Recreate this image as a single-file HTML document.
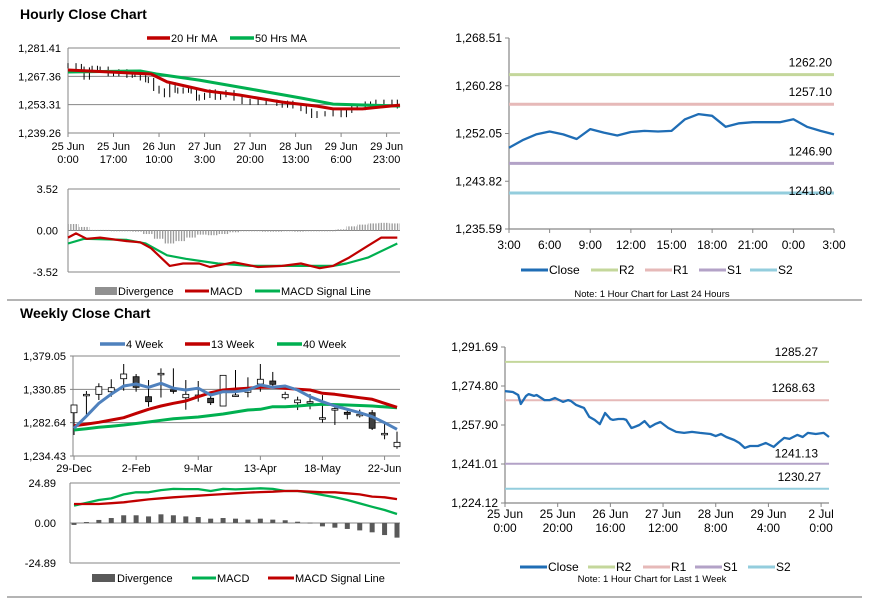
<!DOCTYPE html>
<html><head><meta charset="utf-8">
<style>
html,body{margin:0;padding:0;background:#fff;}
svg{display:block;font-family:"Liberation Sans",Arial,sans-serif;}
</style></head>
<body>
<svg id="s" width="873" height="601" viewBox="0 0 873 601" xmlns="http://www.w3.org/2000/svg">
<defs>
<pattern id="stripe" width="2.7" height="4" patternUnits="userSpaceOnUse"><rect x="0" y="0" width="1.3" height="4" fill="#999"/></pattern>
</defs>
<rect x="0" y="0" width="873" height="601" fill="#fff"/>
<line x1="7" y1="300" x2="862" y2="300" stroke="#888" stroke-width="1.2"/>
<line x1="7" y1="597" x2="862" y2="597" stroke="#888" stroke-width="1.2"/>
<text x="20" y="19" font-size="14" font-weight="bold">Hourly Close Chart</text>
<text x="20" y="318" font-size="14" font-weight="bold">Weekly Close Chart</text>
</svg>
<script>
// ===== Hourly close data (hours since 25 Jun 0:00) =====
const hrHours = [0,3,5,6,8,9,11,12,15,17,19,22,24,25,27,29,30,32,34,36,38,40,41,43,45,46,48,49,51,53,55,57,59,62,65,68,71,74,78,80,82,84,87,89,91,93,96,99,102,104,106,108,111,113,115,118,121,123];
const hrClose = [1272.6,1272.2,1270.9,1267.0,1270.5,1271.3,1270.5,1270.9,1268.7,1268.7,1269.6,1267.9,1268.7,1268.3,1266.6,1265.7,1265.3,1261.4,1260.1,1258.3,1263.1,1260.5,1260.1,1260.5,1260.5,1260.1,1256.6,1257.0,1257.9,1259.6,1257.0,1258.3,1259.2,1256.6,1254.9,1254.5,1254.9,1254.5,1254.0,1253.1,1254.0,1252.7,1251.4,1250.1,1248.0,1248.8,1248.8,1250.1,1248.4,1250.5,1252.3,1251.9,1253.6,1252.7,1254.5,1254.0,1254.5,1252.7];
const ma20Hours = [0,31,37,52,64,80,93,99,110,124];
const ma20Vals = [1270.5,1268.5,1264.6,1260.1,1258.1,1254.6,1252.6,1251.2,1251.2,1253.1];
const ma50Hours = [0,27,33,49,68,87,99,124];
const ma50Vals = [1269.5,1270.0,1268.5,1265.5,1261.1,1256.6,1253.6,1252.6];
const hPriceTicks = ["1,281.41","1,267.36","1,253.31","1,239.26"];
const hPriceTickVals = [1281.41,1267.36,1253.31,1239.26];
const hXLabel1 = ["25 Jun","25 Jun","26 Jun","27 Jun","27 Jun","28 Jun","29 Jun","29 Jun"];
const hXLabel2 = ["0:00","17:00","10:00","3:00","20:00","13:00","6:00","23:00"];
const hXLabelHours = [0,17,34,51,68,85,102,119];
// hourly MACD
const hMacdHours = [0,3,7,12,22,27,31,38,43,49,53,62,71,80,87,94,99,105,112,117,123];
const hMacdVals = [-0.6,-0.25,-0.7,-0.6,-0.9,-1.0,-1.5,-3.0,-2.8,-2.8,-3.1,-2.7,-3.1,-3.0,-2.8,-3.2,-3.0,-2.3,-1.3,-0.6,-0.6];
const hSigHours = [0,6,22,29,37,44,56,68,87,99,104,112,123];
const hSigVals = [-1.1,-0.7,-0.8,-1.1,-2.1,-2.4,-2.8,-3.0,-3.0,-3.0,-2.8,-2.3,-1.1];
const hDivHours = [0,4,8,12,16,20,24,28,32,36,40,44,48,52,56,60,64,68,72,76,80,84,88,92,96,100,104,108,112,116,120];
const hDivVals = [0.55,0.3,0.05,0.05,-0.05,-0.05,-0.1,-0.3,-0.7,-1.1,-0.9,-0.6,-0.35,-0.4,-0.3,-0.15,-0.05,0,-0.1,-0.1,-0.05,-0.1,-0.05,-0.05,0,0.1,0.35,0.5,0.6,0.65,0.6];
// 24h chart
const dayHours = [0,1,2,3,4,5,6,7,8,9,10,11,12,13,14,15,16,17,18,19,20,21,22,23,24];
const dayClose = [1249.6,1250.9,1251.9,1252.4,1251.9,1251.1,1252.8,1252.2,1251.7,1252.3,1252.5,1252.4,1252.5,1254.5,1255.4,1255.1,1253.2,1253.8,1254.0,1254.0,1254.0,1254.5,1253.2,1252.5,1251.9];
const dayLevelNames = ["R2","R1","S1","S2"];
const dayLevels = [1262.20,1257.10,1246.90,1241.80];
const dayYTicks = ["1,268.51","1,260.28","1,252.05","1,243.82","1,235.59"];
const dayYTickVals = [1268.51,1260.28,1252.05,1243.82,1235.59];
const dayXLabels = ["3:00","6:00","9:00","12:00","15:00","18:00","21:00","0:00","3:00"];
const dayXLabelHours = [0,3,6,9,12,15,18,21,24];
// week hourly chart levels
const wkLevels = [1285.27,1268.63,1241.13,1230.27];
const wkYTicks = ["1,291.69","1,274.80","1,257.90","1,241.01","1,224.12"];
const wkYTickVals = [1291.69,1274.80,1257.90,1241.01,1224.12];
const wkXLabel1 = ["25 Jun","25 Jun","26 Jun","27 Jun","28 Jun","29 Jun","2 Jul"];
const wkXLabel2 = ["0:00","20:00","16:00","12:00","8:00","4:00","0:00"];
const wkXLabelHours = [0,20,40,60,80,100,120];
// ===== Weekly candles =====
const wOpen  = [1297.0,1323.0,1323.6,1327.4,1346.2,1349.1,1320.2,1352.0,1330.0,1318.7,1322.0,1317.9,1306.7,1322.6,1326.6,1338.6,1342.9,1318.7,1311.5,1313.0,1289.8,1302.9,1297.6,1294.7,1297.0,1267.2,1247.9];
const wClose = [1308.2,1323.6,1334.6,1333.2,1353.0,1333.7,1313.0,1354.0,1328.9,1323.6,1322.6,1311.5,1351.1,1322.6,1330.9,1345.4,1338.1,1323.6,1315.4,1313.0,1289.8,1302.9,1294.7,1294.7,1274.5,1267.2,1254.2];
const wHigh  = [1308.2,1328.4,1339.6,1345.4,1367.5,1353.0,1344.3,1361.2,1361.2,1344.3,1342.9,1324.5,1351.1,1358.8,1348.2,1367.5,1356.0,1327.4,1320.2,1324.0,1322.6,1306.7,1303.4,1301.5,1301.0,1280.7,1269.6];
const wLow   = [1264.8,1293.7,1315.4,1320.2,1328.9,1327.4,1305.7,1319.0,1324.5,1301.4,1313.0,1308.2,1306.7,1320.0,1319.3,1327.4,1334.0,1316.0,1300.9,1302.0,1282.6,1279.3,1287.5,1290.0,1272.0,1258.6,1245.0];
const w4 = [1274.5,1292.0,1310.6,1324.0,1335.7,1338.6,1333.8,1339.5,1332.5,1329.9,1332.5,1322.6,1327.4,1327.4,1329.9,1337.1,1333.8,1335.7,1329.9,1320.2,1313.0,1306.7,1302.0,1297.0,1291.3,1282.6,1273.0];
const w13 = [1278.3,1280.5,1283.1,1286.5,1289.8,1296.1,1301.9,1306.7,1310.6,1313.9,1320.2,1326.0,1329.9,1331.3,1332.5,1333.8,1333.8,1332.5,1331.1,1329.9,1325.1,1323.6,1321.2,1318.7,1316.4,1310.6,1304.9];
const w40 = [1272.0,1273.9,1275.9,1277.5,1279.3,1281.5,1283.6,1286.0,1288.4,1289.6,1290.8,1293.0,1295.1,1298.0,1300.9,1301.9,1305.7,1305.7,1306.7,1308.2,1309.2,1308.7,1308.2,1307.5,1306.7,1305.5,1304.3];
const wTicks = ["1,379.05","1,330.85","1,282.64","1,234.43"];
const wTickVals = [1379.05,1330.85,1282.64,1234.43];
const wXLabels = ["29-Dec","2-Feb","9-Mar","13-Apr","18-May","22-Jun"];
const wXLabelIdx = [0,5,10,15,20,25];
const wMacd = [10.8,12.5,14.3,15.3,17.8,19.1,19.1,20.5,21.2,21.1,21.1,19.9,21.2,20.9,21.2,21.6,21.2,19.9,19.9,18.9,17.4,16.0,14.3,12.2,10.1,8.1,5.6];
const wSig = [11.8,11.8,11.8,12.3,12.9,13.8,14.7,15.4,16.0,16.5,17.0,17.5,18.0,18.5,18.9,19.2,19.5,19.9,19.9,19.5,19.1,19.1,18.5,17.8,16.4,16.0,14.9];
const wDiv = [-1.2,0.6,1.9,3.1,4.8,4.8,4.1,5.4,4.8,4.1,3.7,2.7,3.1,2.7,2.1,2.7,2.1,1.7,0.8,0.2,-2.1,-2.9,-3.7,-4.6,-5.8,-7.5,-9.1];

const svg = document.getElementById('s');
const NS = 'http://www.w3.org/2000/svg';
function mk(tag, attrs, parent){const e=document.createElementNS(NS,tag);for(const k in attrs)e.setAttribute(k,attrs[k]);(parent||svg).appendChild(e);return e;}
function txt(x,y,s,size,anchor,parent){const t=mk('text',{x:x,y:y,'font-size':size,'text-anchor':anchor||'start',fill:'#000'},parent);t.textContent=s;return t;}
function lin(a,b,c,d,col,w,parent){return mk('line',{x1:a,y1:b,x2:c,y2:d,stroke:col,'stroke-width':w},parent);}
function poly(xs,ys,col,w,parent){return mk('polyline',{points:xs.map((x,i)=>x.toFixed(1)+','+ys[i].toFixed(1)).join(' '),fill:'none',stroke:col,'stroke-width':w,'stroke-linejoin':'round'},parent);}
function lin2(d0,d1,r0,r1){return v=>r0+(v-d0)*(r1-r0)/(d1-d0);}
const RED='#c00000',GRN='#00b050',BLU='#4f81bd',CLS='#1f6db5',GRID='#868686';
const LCOL={R2:'#c4d79b',R1:'#e6b9b8',S1:'#b3a2c7',S2:'#93cddd'};

// ===== Panel 1: Hourly price =====
{
const g=mk('g',{});


const x=lin2(0,124,68,400), y=lin2(1281.41,1239.26,48,133);
hPriceTickVals.forEach((v,i)=>{
  const gl=lin(68,y(v),400,y(v),GRID,1,g);
  
  
  const t=txt(61,y(v)+4,hPriceTicks[i],11,'end',g);
  
  
});
lin(68,48,68,133,GRID,1,g);
hXLabelHours.forEach((h,i)=>{
  lin(x(h),133,x(h),137,GRID,1,g);
  const t1=txt(x(h),150,hXLabel1[i],11,'middle',g);
  
  
  const t2=txt(x(h),163,hXLabel2[i],11,'middle',g);
  
  
});
hrHours.forEach((h,i)=>{
  const o=i>0?hrClose[i-1]:hrClose[i], c=hrClose[i];
  const hi=Math.max(o,c)+1.3, lo=Math.min(o,c)-1.3;
  const b=lin(x(h),y(hi),x(h),y(lo),'#000',1,g);
  
  
});
const m50=poly(ma50Hours.map(x),ma50Vals.map(y),GRN,3,g);


const m20=poly(ma20Hours.map(x),ma20Vals.map(y),RED,3,g);


const l1=lin(147,38,170,38,RED,3.5,g);


txt(171,42,'20 Hr MA',11,'start',g);
const l2=lin(230,38,254,38,GRN,3.5,g);


txt(255,42,'50 Hrs MA',11,'start',g);
}
// ===== Panel 2: Hourly MACD =====
{
const g=mk('g',{});


const x=lin2(0,124,68,400), y=lin2(3.52,-3.52,189,272);
[3.52,0,-3.52].forEach((v,i)=>{
  lin(68,y(v),400,y(v),GRID,1,g);
  const t=txt(58,y(v)+4,['3.52','0.00','-3.52'][i],11,'end',g);
  
  
});
lin(68,189,68,272,GRID,1,g);
hDivHours.forEach((h,i)=>{
  const v=hDivVals[i];
  const r=mk('rect',{x:x(h),y:Math.min(y(v),y(0)),width:10.7,height:Math.max(0.8,Math.abs(y(v)-y(0))),fill:'url(#stripe)'},g);
  
  
});
const s=poly(hSigHours.map(x),hSigVals.map(y),GRN,2.2,g);


const m=poly(hMacdHours.map(x),hMacdVals.map(y),RED,2.2,g);


const a=mk('rect',{x:95,y:287,width:22,height:8,fill:'#909090'},g);


txt(118,295,'Divergence',11,'start',g);
const b=lin(185,291,209,291,RED,3,g);


txt(210,295,'MACD',11,'start',g);
const c=lin(255,291,280,291,GRN,3,g);


txt(281,295,'MACD Signal Line',11,'start',g);
}
// ===== Level charts =====
function levelChart(name,x0,x1,y0,y1,tickVals,ticks,hours,closes,maxH,levels,labelOffsets,xLabHours,xl1,xl2,legendY,noteY,note,legX){
  const g=mk('g',{});
  
  
  const x=lin2(0,maxH,x0,x1), y=lin2(tickVals[0],tickVals[tickVals.length-1],y0,y1);
  lin(x0,y0,x0,y1,GRID,1.2,g); lin(x0,y1,x1,y1,GRID,1.2,g);
  tickVals.forEach((v,i)=>{
    lin(x0-4,y(v),x0,y(v),GRID,1,g);
    const t=txt(x0-7,y(v)+4,ticks[i],12,'end',g);
    
    
  });
  xLabHours.forEach((h,i)=>{
    lin(x(h),y1,x(h),y1+4,GRID,1,g);
    if(xl2){
      const a=txt(x(h),y1+15,xl1[i],12,'middle',g);
      
      
      const b=txt(x(h),y1+29,xl2[i],12,'middle',g);
      
      
    } else {
      const a=txt(x(h),y1+20,xl1[i],12,'middle',g);
      
      
    }
  });
  levels.forEach((v,i)=>{
    const n=dayLevelNames[i];
    const l=lin(x0,y(v),x1,y(v),LCOL[n],name==='day-levels-chart'?3:2,g);
    
    
    const t=txt(labelOffsets[i][0],y(v)-labelOffsets[i][1],v.toFixed(2),12,'end',g);
    
    
  });
  const c=poly(hours.map(x),closes.map(y),CLS,2.3,g);
  
  
  const items=[['Close',CLS],['R2',LCOL.R2],['R1',LCOL.R1],['S1',LCOL.S1],['S2',LCOL.S2]];
  items.forEach((it,i)=>{
    const l=lin(legX[i],legendY,legX[i]+27,legendY,it[1],3,g);
    
    
    txt(legX[i]+28,legendY+4,it[0],12,'start',g);
  });
  const nt=txt(652,noteY,note,9.5,'middle',g);
  
  
}
levelChart('day-levels-chart',509,834,38,229,dayYTickVals,dayYTicks,dayHours,dayClose,24,dayLevels,
  [[832,8],[832,8],[832,8],[832,-2]],dayXLabelHours,dayXLabels,null,270,297,'Note: 1 Hour Chart for Last 24 Hours',[521,591,645,699,750]);
levelChart('week-levels-chart',505,829,347,503,wkYTickVals,wkYTicks,hrHours,hrClose,123,wkLevels,
  [[818,6],[815,8],[818,6],[821,8]],wkXLabelHours,wkXLabel1,wkXLabel2,567,582,'Note: 1 Hour Chart for Last 1 Week',[520,588,643,695,748]);

// ===== Weekly candles =====
{
const g=mk('g',{});


const x=lin2(0,26,74,397), y=lin2(1379.05,1234.43,356,456);
wTickVals.forEach((v,i)=>{
  lin(70,y(v),400,y(v),GRID,1,g);
  const t=txt(66,y(v)+4,wTicks[i],11,'end',g);
  
  
});
lin(73,356,73,456,GRID,1,g);
wXLabelIdx.forEach((k,i)=>{
  lin(x(k),456,x(k),460,GRID,1,g);
  const t=txt(x(k),472,wXLabels[i],11,'middle',g);
  
  
});
wOpen.forEach((o,i)=>{
  const c=wClose[i];
  const w=lin(x(i),y(wHigh[i]),x(i),y(wLow[i]),'#000',1,g);
  
  
  const top=y(Math.max(o,c)), h=Math.max(1.5,Math.abs(y(o)-y(c)));
  const r=mk('rect',{x:x(i)-3,y:top,width:6,height:h,fill:c>=o?'#fff':'#404040',stroke:'#000','stroke-width':0.8},g);
  
  
});
const idx=wOpen.map((_,i)=>x(i));
const p40=poly(idx,w40.map(y),GRN,3,g);


const p13=poly(idx,w13.map(y),RED,3,g);


const p4=poly(idx,w4.map(y),BLU,3,g);


const la=lin(100,344,125,344,BLU,3.5,g);


txt(126,348,'4 Week',11,'start',g);
const lb=lin(185,344,210,344,RED,3.5,g);


txt(211,348,'13 Week',11,'start',g);
const lc=lin(277,344,302,344,GRN,3.5,g);


txt(303,348,'40 Week',11,'start',g);
}
// ===== Weekly MACD =====
{
const g=mk('g',{});


const x=lin2(0,26,74,397), y=lin2(24.89,-24.89,483,563);
[24.89,0,-24.89].forEach((v,i)=>{
  lin(70,y(v),400,y(v),GRID,1,g);
  const t=txt(56,y(v)+4,['24.89','0.00','-24.89'][i],11,'end',g);
  
  
});
lin(70,483,70,563,GRID,1,g);
wDiv.forEach((v,i)=>{
  const r=mk('rect',{x:x(i)-2.5,y:Math.min(y(v),y(0)),width:5,height:Math.max(0.8,Math.abs(y(v)-y(0))),fill:'#595959'},g);
  
  
});
const idx=wDiv.map((_,i)=>x(i));
const pm=poly(idx,wMacd.map(y),GRN,2.3,g);


const ps=poly(idx,wSig.map(y),RED,2.3,g);


const a=mk('rect',{x:92,y:574,width:23,height:8,fill:'#595959'},g);


txt(117,582,'Divergence',11,'start',g);
const b=lin(192,578,216,578,GRN,3,g);


txt(217,582,'MACD',11,'start',g);
const c=lin(268,578,294,578,RED,3,g);


txt(295,582,'MACD Signal Line',11,'start',g);
}
</script>
</body></html>
